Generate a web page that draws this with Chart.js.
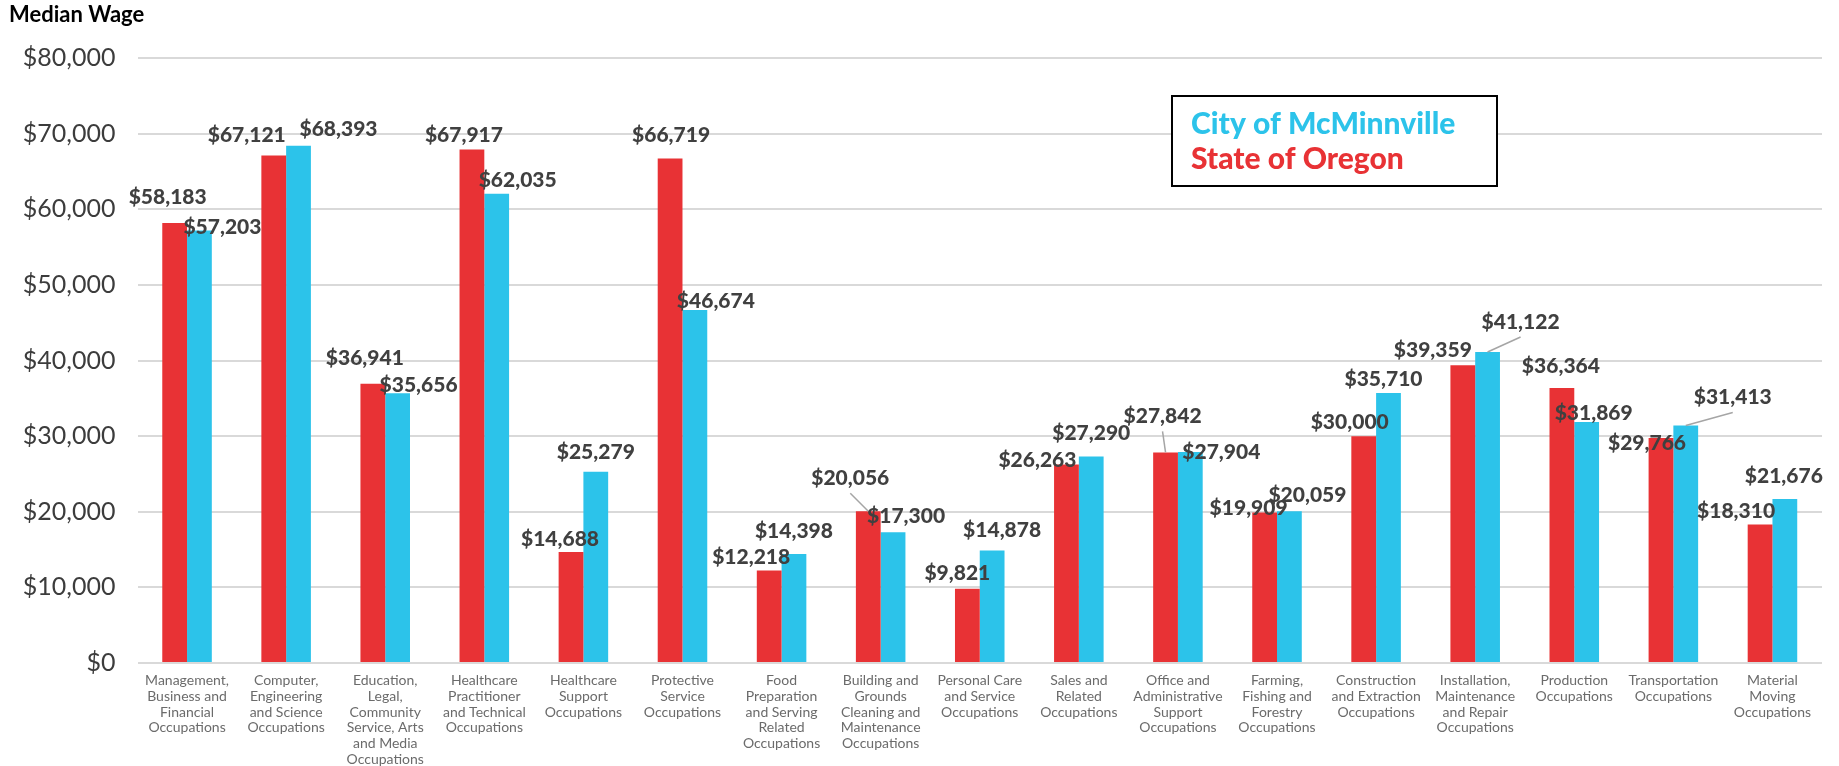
<!DOCTYPE html>
<html>
<head>
<meta charset="utf-8">
<title>Median Wage</title>
<script src="https://cdn.jsdelivr.net/npm/chart.js@4.4.1/dist/chart.umd.min.js"></script>
<style>
  html, body { margin: 0; padding: 0; background: #fff; }
  #wrap { width: 1839px; height: 766px; position: relative; }
</style>
</head>
<body>
<div id="wrap"><canvas id="wageChart"></canvas></div>
<script>
// Occupation groups (multi-line axis labels)
const occupations = [
    ['Management,', 'Business and', 'Financial', 'Occupations'],
    ['Computer,', 'Engineering', 'and Science', 'Occupations'],
    ['Education,', 'Legal,', 'Community', 'Service, Arts', 'and Media', 'Occupations'],
    ['Healthcare', 'Practitioner', 'and Technical', 'Occupations'],
    ['Healthcare', 'Support', 'Occupations'],
    ['Protective', 'Service', 'Occupations'],
    ['Food', 'Preparation', 'and Serving', 'Related', 'Occupations'],
    ['Building and', 'Grounds', 'Cleaning and', 'Maintenance', 'Occupations'],
    ['Personal Care', 'and Service', 'Occupations'],
    ['Sales and', 'Related', 'Occupations'],
    ['Office and', 'Administrative', 'Support', 'Occupations'],
    ['Farming,', 'Fishing and', 'Forestry', 'Occupations'],
    ['Construction', 'and Extraction', 'Occupations'],
    ['Installation,', 'Maintenance', 'and Repair', 'Occupations'],
    ['Production', 'Occupations'],
    ['Transportation', 'Occupations'],
    ['Material', 'Moving', 'Occupations']
];

const oregonWage = [58183, 67121, 36941, 67917, 14688, 66719, 12218, 20056, 9821, 26263, 27842, 19909, 30000, 39359, 36364, 29766, 18310];
const mcminnvilleWage = [57203, 68393, 35656, 62035, 25279, 46674, 14398, 17300, 14878, 27290, 27904, 20059, 35710, 41122, 31869, 31413, 21676];

const yTickValues = [0, 10000, 20000, 30000, 40000, 50000, 60000, 70000, 80000];

// hand-placed value labels: [dx, dy] from the top centre of each bar
const oregonLabelShift = [[-7, -26], [-27, -20], [-8, -25], [-8, -14], [-11, -13], [1, -23], [-18, -13], [-18, -33], [-10, -15],
    [-29, -4], [-3, -36], [-16, -4], [-14, -14], [-30, -15], [-1, -22], [-14, 5], [-24, -13]];
const cityLabelShift = [[23, -3], [40, -17], [21, -8], [21, -14], [0, -20], [21, -9], [0, -23], [13, -16], [10, -20],
    [0, -23], [31, 0], [18, -16], [-5, -14], [33, -30], [7, -9], [47, -28], [-1, -23]];
// labels pulled far enough to need a leader line
const oregonLeaders = [7, 10];
const cityLeaders = [13, 15];

const RED = '#e83235';
const BLUE = '#2cc3ea';
const FONT = 'Lato, "Open Sans", sans-serif';

const money = v => '$' + v.toLocaleString('en-US');

const valueLabels = {
    id: 'valueLabels',
    afterDatasetsDraw(chart) {
        const ctx = chart.ctx;
        const shifts = [oregonLabelShift, cityLabelShift];
        const leaders = [oregonLeaders, cityLeaders];
        ctx.save();
        ctx.font = '900 21px ' + FONT;
        ctx.textAlign = 'center';
        ctx.textBaseline = 'middle';
        chart.data.datasets.forEach((ds, di) => {
            const meta = chart.getDatasetMeta(di);
            meta.data.forEach((bar, i) => {
                const lx = bar.x + shifts[di][i][0];
                const ly = bar.y + shifts[di][i][1];
                if (leaders[di].includes(i)) {
                    ctx.strokeStyle = '#a5a5a5';
                    ctx.lineWidth = 1.5;
                    ctx.beginPath();
                    ctx.moveTo(lx, ly + 15);
                    ctx.lineTo(bar.x, bar.y);
                    ctx.stroke();
                }
                ctx.fillStyle = '#404040';
                ctx.fillText(money(ds.data[i]), lx, ly);
            });
        });
        ctx.restore();
    }
};

const legendBox = {
    id: 'legendBox',
    afterDraw(chart) {
        const ctx = chart.ctx;
        const x = 1172, y = 96, w = 325, h = 90;
        ctx.save();
        ctx.fillStyle = '#fff';
        ctx.fillRect(x, y, w, h);
        ctx.strokeStyle = '#000';
        ctx.lineWidth = 2;
        ctx.strokeRect(x, y, w, h);
        ctx.font = '900 30px ' + FONT;
        ctx.textAlign = 'left';
        ctx.textBaseline = 'middle';
        // City first, then State
        const order = [1, 0];
        order.forEach((di, row) => {
            const ds = chart.data.datasets[di];
            ctx.fillStyle = ds.backgroundColor;
            ctx.fillText(ds.label, x + 19, y + 28 + row * 35);
        });
        ctx.restore();
    }
};

const ctx = document.getElementById('wageChart').getContext('2d');
new Chart(ctx, {
    type: 'bar',
    data: {
        labels: occupations,
        datasets: [{
            label: 'State of Oregon',
            data: oregonWage,
            backgroundColor: RED,
            categoryPercentage: 0.5,
            barPercentage: 1.0
        }, {
            label: 'City of McMinnville',
            data: mcminnvilleWage,
            backgroundColor: BLUE,
            categoryPercentage: 0.5,
            barPercentage: 1.0
        }]
    },
    options: {
        responsive: true,
        maintainAspectRatio: false,
        animation: false,
        layout: {
            padding: { left: 9, right: 17, top: 0, bottom: 0 }
        },
        scales: {
            y: {
                min: 0,
                max: 80000,
                afterBuildTicks: scale => {
                    scale.ticks = yTickValues.map(v => ({ value: v }));
                },
                afterFit: scale => { scale.width = 128.5; },
                ticks: {
                    padding: 22,
                    color: '#3c3c3c',
                    font: { family: FONT, size: 25 },
                    callback: value => money(value)
                },
                grid: {
                    color: '#d9d9d9',
                    lineWidth: 2,
                    drawTicks: false
                },
                border: { display: false }
            },
            x: {
                afterFit: scale => { scale.height = 103; },
                ticks: {
                    autoSkip: false,
                    maxRotation: 0,
                    padding: 10,
                    color: '#6b6b6b',
                    font: { family: FONT, size: 14, lineHeight: 1.12 }
                },
                grid: { display: false, drawTicks: false },
                border: { display: false }
            }
        },
        plugins: {
            legend: { display: false },
            tooltip: { enabled: false },
            title: {
                display: true,
                text: 'Median Wage',
                align: 'start',
                color: '#000',
                font: { family: FONT, size: 22, weight: 'bold' },
                padding: { top: 2, bottom: 29.6 }
            }
        }
    },
    plugins: [valueLabels, legendBox]
});
</script>
</body>
</html>
